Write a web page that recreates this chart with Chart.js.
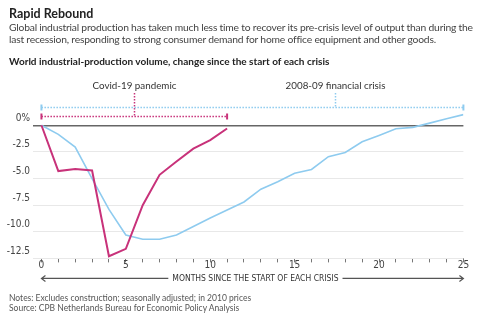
<!DOCTYPE html>
<html>
<head>
<meta charset="utf-8">
<script src="https://cdn.jsdelivr.net/npm/chart.js@4.4.1/dist/chart.umd.min.js"></script>
<style>
  body { margin: 0; width: 500px; height: 321px; overflow: hidden; background: #fff; position: relative; font-family: Lato, "Noto Sans", sans-serif; color: #333; }
  canvas { position: absolute; left: 0; top: 0; }
  .head { position: absolute; left: 9px; top: 6px; z-index: 2; white-space: nowrap; }
  .head h1 { margin: 0; font-size: 12.5px; line-height: 15px; font-weight: 700; color: #222; }
  .head .dek { font-size: 10.3px; line-height: 12px; letter-spacing: -0.2px; color: #444; }
  .sub { position: absolute; left: 9px; top: 55px; font-size: 10px; line-height: 12px; font-weight: 700; color: #222; z-index: 2; white-space: nowrap; }
  .notes { position: absolute; left: 9px; top: 294px; font-size: 8.5px; line-height: 9.5px; color: #555; z-index: 2; white-space: nowrap; }
</style>
</head>
<body>
<div class="head">
  <h1>Rapid Rebound</h1>
  <div class="dek">Global industrial production has taken much less time to recover its pre-crisis level of output than during the<br>last recession, responding to strong consumer demand for home office equipment and other goods.</div>
</div>
<div class="sub">World industrial-production volume, change since the start of each crisis</div>
<canvas id="reboundChart" width="500" height="321"></canvas>
<div class="notes">Notes: Excludes construction; seasonally adjusted; in 2010 prices<br>Source: CPB Netherlands Bureau for Economic Policy Analysis</div>

<script>
// Months since the start of each crisis
const months = [0, 1, 2, 3, 4, 5, 6, 7, 8, 9, 10, 11, 12, 13, 14, 15, 16, 17, 18, 19, 20, 21, 22, 23, 24, 25];

// % change in world industrial-production volume
const covidChange = [0, -4.3, -4.1, -4.25, -12.3, -11.6, -7.5, -4.65, -3.4, -2.2, -1.4, -0.3];
const financialChange = [0, -0.85, -2.05, -5.0, -7.9, -10.3, -10.7, -10.7, -10.3, -9.5, -8.7, -7.95, -7.2,
  -6.0, -5.3, -4.5, -4.15, -2.95, -2.55, -1.55, -0.95, -0.32, -0.2, 0.2, 0.62, 1.0];

const yTicks = [0, -2.5, -5, -7.5, -10, -12.5];
const xLabelled = [0, 5, 10, 15, 20, 25];

// Crisis legend brackets: name, last month covered, where the label hangs
const crisisNames = ['Covid-19 pandemic', '2008-09 financial crisis'];
const crisisEnds = [11, 25];
const crisisLabelAt = [5.5, 17.4];
const xAxisTitle = 'MONTHS SINCE THE START OF EACH CRISIS';

const MAGENTA = '#c8327a';
const BLUE = '#8ecbef';
const crisisColors = [MAGENTA, BLUE];

const toPoints = (vals) => vals.map((v, i) => ({ x: months[i], y: v }));

// Brackets, labels and the arrowed x-axis title
const decorations = {
    id: 'decorations',
    afterDraw(chart) {
        const { ctx, chartArea, scales } = chart;
        const xs = scales.x;
        const top = chartArea.top;
        const rows = [top + 36.5, top + 27.5]; // covid row sits under the financial row

        ctx.save();
        crisisNames.forEach((name, i) => {
            const x0 = xs.getPixelForValue(0);
            const x1 = xs.getPixelForValue(crisisEnds[i]);
            const xm = Math.round(xs.getPixelForValue(crisisLabelAt[i])) + 0.5;
            const y = rows[i];
            ctx.strokeStyle = crisisColors[i];

            // dotted span
            ctx.setLineDash([1.5, 1.5]);
            ctx.lineWidth = 1.5;
            ctx.beginPath();
            ctx.moveTo(x0, y);
            ctx.lineTo(x1, y);
            ctx.stroke();

            // dotted connector up to the label
            ctx.beginPath();
            ctx.moveTo(xm, top + 13);
            ctx.lineTo(xm, y);
            ctx.stroke();

            // solid end caps
            ctx.setLineDash([]);
            ctx.lineWidth = 2;
            [x0, x1].forEach(x => {
                ctx.beginPath();
                ctx.moveTo(x, y - 3);
                ctx.lineTo(x, y + 3);
                ctx.stroke();
            });

            ctx.fillStyle = '#333';
            ctx.font = '9.8px Lato, "Noto Sans", sans-serif';
            ctx.textAlign = 'center';
            ctx.textBaseline = 'middle';
            ctx.fillText(name, xm, top + 6);
        });

        // x-axis title with arrows both ways
        const left = xs.getPixelForValue(0);
        const right = xs.getPixelForValue(25);
        const mid = (left + right) / 2 + 3;
        const ay = chartArea.bottom + 20;
        ctx.font = '8.5px "Liberation Sans Narrow", "DejaVu Sans Condensed", sans-serif';
        ctx.fillStyle = '#333';
        ctx.textAlign = 'center';
        ctx.textBaseline = 'middle';
        ctx.fillText(xAxisTitle, mid, ay);
        const half = ctx.measureText(xAxisTitle).width / 2 + 4;

        ctx.strokeStyle = '#555';
        ctx.lineWidth = 1.2;
        ctx.beginPath();
        ctx.moveTo(left, ay);
        ctx.lineTo(mid - half, ay);
        ctx.moveTo(mid + half, ay);
        ctx.lineTo(right, ay);
        ctx.moveTo(left + 4, ay - 3);
        ctx.lineTo(left, ay);
        ctx.lineTo(left + 4, ay + 3);
        ctx.moveTo(right - 4, ay - 3);
        ctx.lineTo(right, ay);
        ctx.lineTo(right - 4, ay + 3);
        ctx.stroke();
        ctx.restore();
    }
};

const tickFont = { family: '"Liberation Sans Narrow", "DejaVu Sans Condensed", sans-serif', size: 10 };

new Chart(document.getElementById('reboundChart'), {
    type: 'line',
    data: {
        datasets: [
            {
                label: 'Covid-19 pandemic',
                data: toPoints(covidChange),
                borderColor: MAGENTA,
                borderWidth: 2,
                pointRadius: 0,
                tension: 0
            },
            {
                label: '2008-09 financial crisis',
                data: toPoints(financialChange),
                borderColor: BLUE,
                borderWidth: 1.6,
                pointRadius: 0,
                tension: 0
            }
        ]
    },
    options: {
        responsive: false,
        animation: false,
        layout: { padding: { top: 80, right: 36.6, bottom: 0, left: 0 } },
        plugins: {
            legend: { display: false },
            tooltip: { enabled: false }
        },
        scales: {
            x: {
                type: 'linear',
                min: -0.5,
                max: 25,
                afterBuildTicks: axis => { axis.ticks = months.map(v => ({ value: v })); },
                afterFit: axis => { axis.height = 62.6; },
                ticks: {
                    autoSkip: false,
                    maxRotation: 0,
                    padding: -3,
                    color: '#444',
                    font: tickFont,
                    callback: v => xLabelled.includes(v) ? String(v) : ''
                },
                grid: {
                    drawOnChartArea: false,
                    drawTicks: true,
                    tickLength: 4,
                    color: '#777'
                },
                border: { display: false }
            },
            y: {
                min: -12.5,
                max: 4.25,
                afterBuildTicks: axis => { axis.ticks = yTicks.map(v => ({ value: v })); },
                afterFit: axis => { axis.width = 33; },
                ticks: {
                    padding: 3,
                    labelOffset: -7,
                    color: '#444',
                    font: tickFont,
                    callback: v => v === 0 ? '0%' : v.toFixed(1)
                },
                grid: {
                    drawTicks: false,
                    color: ctx => ctx.tick && ctx.tick.value === 0 ? '#666' : '#e8e8e8',
                    lineWidth: ctx => ctx.tick && ctx.tick.value === 0 ? 1.5 : 1
                },
                border: { display: false }
            }
        }
    },
    plugins: [decorations]
});
</script>
</body>
</html>
